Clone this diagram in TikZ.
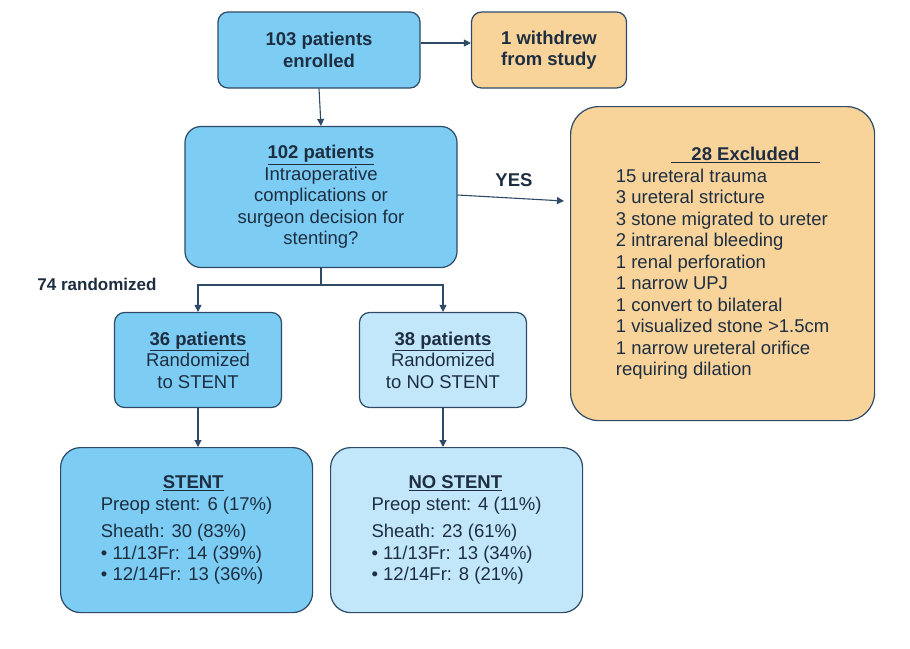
\documentclass[tikz,border=0pt]{standalone}
\usepackage{fontspec}
\setmainfont{Liberation Sans}
\usetikzlibrary{positioning,arrows.meta}
\definecolor{edge}{HTML}{2E4A66}
\definecolor{txt}{HTML}{1E2E40}
\definecolor{blueA}{HTML}{7CCCF4}
\definecolor{blueB}{HTML}{C2E7FA}
\definecolor{orng}{HTML}{F8D49B}
\tikzset{
  box/.style={draw=edge, line width=1.2pt, rounded corners=10pt, text=txt,
    font=\fontsize{18.5}{21.5}\selectfont, align=center, inner sep=4pt},
  arr/.style={-{Triangle[length=7pt,width=7pt]}, draw=edge, line width=1.1pt},
}
\begin{document}
\begin{tikzpicture}[x=1pt,y=-1pt]
  \useasboundingbox (0,0) rectangle (910,648);
  % top row
  \node[box, fill=blueA, minimum width=202pt, minimum height=76pt] (enr) at (319,50)
    {\textbf{103 patients}\\\textbf{enrolled}};
  \node[box, fill=orng, minimum width=155pt, minimum height=76pt] (wd) at (549,50)
    {\textbf{1 withdrew}\\\textbf{from study}};
  \draw[arr] (enr.east |- 0,43) -- (wd.west |- 0,43);

  % screening
  \node[box, fill=blueA, minimum width=272pt, minimum height=141pt, rounded corners=16pt] (scr) at (321,197)
    {\textbf{\underline{102 patients}}\\Intraoperative\\complications or\\surgeon decision for\\stenting?};
  \draw[arr] (enr.south) -- (scr.north);

  % excluded
  \node[box, fill=orng, minimum width=304pt, minimum height=314pt, rounded corners=28pt,
    align=left, anchor=north west, inner xsep=22pt, inner ysep=14pt] (exc) at (570,106)
    {\hspace*{55pt}\textbf{\underline{\ \ \ \ 28 Excluded\ \ \ \ }}\\
     15 ureteral trauma\\3 ureteral stricture\\3 stone migrated to ureter\\
     2 intrarenal bleeding\\1 renal perforation\\1 narrow UPJ\\1 convert to bilateral\\
     1 visualized stone >1.5cm\\1 narrow ureteral orifice\\requiring dilation};
  \coordinate (yesend) at (564,201);
  \draw[arr] (scr.east |- 0,195) -- (yesend);
  \node[text=txt, font=\fontsize{18.5}{21}\selectfont\bfseries] (yes) at (514,180) {YES};

  % randomization
  \node[text=txt, font=\fontsize{17}{20}\selectfont\bfseries] (rnd) at (97,284) {74 randomized};
  \node[box, fill=blueA, minimum width=167pt, minimum height=95pt] (st) at (198,360)
    {\textbf{\underline{36 patients}}\\Randomized\\to STENT};
  \node[box, fill=blueB, minimum width=167pt, minimum height=95pt] (ns) at (443,360)
    {\textbf{\underline{38 patients}}\\Randomized\\to NO STENT};
  \coordinate (split) at (321,285);
  \draw[edge, line width=1.1pt] (scr.south) -- (split);
  \draw[arr] (split) -| (st.north);
  \draw[arr] (split) -| (ns.north);

  % outcomes
  \node[box, fill=blueA, minimum width=252pt, minimum height=165pt, rounded corners=20pt,
    align=left, anchor=north west, inner xsep=18pt, inner ysep=10pt] (sto) at (60,447)
    {\hspace*{62pt}\textbf{\underline{STENT}}\\Preop stent: 6 (17\%)\\[6pt]
     Sheath: 30 (83\%)\\• 11/13Fr: 14 (39\%)\\• 12/14Fr: 13 (36\%)};
  \node[box, fill=blueB, minimum width=252pt, minimum height=165pt, rounded corners=20pt,
    align=left, anchor=north west, inner xsep=18pt, inner ysep=10pt] (nso) at (330,447)
    {\hspace*{37pt}\textbf{\underline{NO STENT}}\\Preop stent: 4 (11\%)\\[6pt]
     Sheath: 23 (61\%)\\• 11/13Fr: 13 (34\%)\\• 12/14Fr: 8 (21\%)};
  \draw[arr] (st.south) -- (st.south |- sto.north);
  \draw[arr] (ns.south) -- (ns.south |- nso.north);
\end{tikzpicture}
\end{document}
